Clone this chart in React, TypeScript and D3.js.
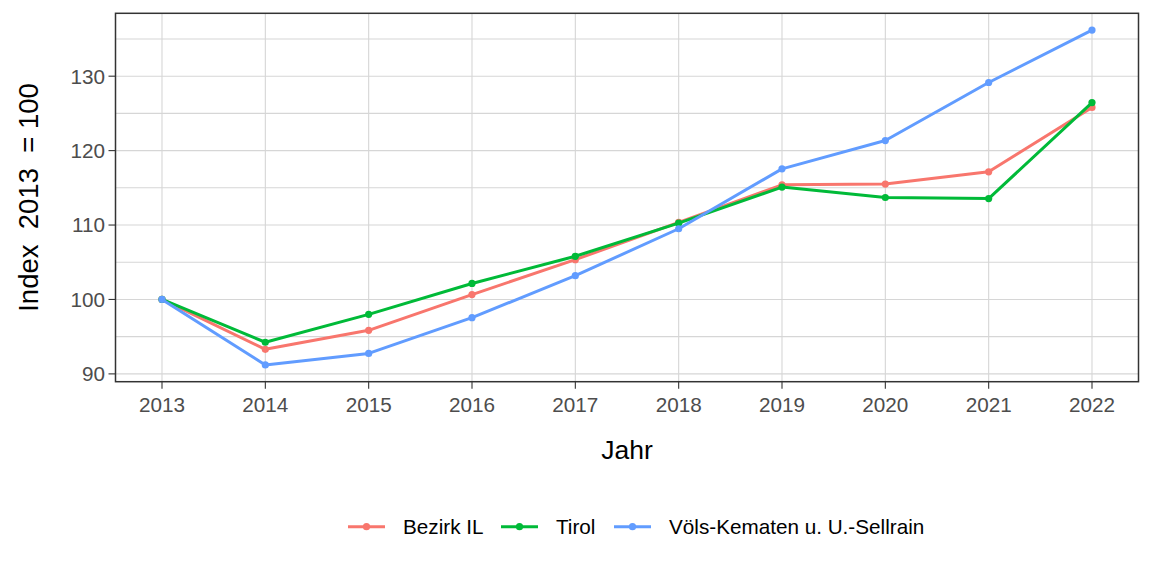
import { useEffect, useRef } from 'react'
import * as d3 from 'd3'

const years = [2013, 2014, 2015, 2016, 2017, 2018, 2019, 2020, 2021, 2022]
const bezirkIL = [100, 93.3, 95.85, 100.65, 105.35, 110.35, 115.4, 115.5, 117.15, 125.8]
const tirol = [100, 94.25, 98.0, 102.15, 105.8, 110.25, 115.1, 113.7, 113.55, 126.45]
const voels = [100, 91.2, 92.75, 97.55, 103.2, 109.5, 117.55, 121.35, 129.15, 136.2]

const seriesNames = ['Bezirk IL', 'Tirol', 'Völs-Kematen u. U.-Sellrain']
const seriesColors = ['#F8766D', '#00BA38', '#619CFF']
const yTicks = [90, 100, 110, 120, 130]
const yMinor = [95, 105, 115, 125, 135]

const W = 1152
const H = 576
const panel = { left: 115.5, right: 1138.5, top: 13.3, bottom: 381.7 }
const font = '"Liberation Sans", Arial, sans-serif'

export default function App() {
  const ref = useRef<SVGSVGElement>(null)

  useEffect(() => {
    const svg = d3.select(ref.current)
    svg.selectAll('*').remove()

    const x = d3.scaleLinear().domain([2012.55, 2022.45]).range([panel.left, panel.right])
    const y = d3.scaleLinear().domain([88.95, 138.45]).range([panel.bottom, panel.top])

    // grid lines
    const grid = svg.append('g')
    grid
      .selectAll('line.h')
      .data([...yTicks, ...yMinor])
      .enter()
      .append('line')
      .attr('x1', panel.left)
      .attr('x2', panel.right)
      .attr('y1', (d) => y(d))
      .attr('y2', (d) => y(d))
      .attr('stroke', '#D6D6D6')
      .attr('stroke-width', 1.1)
    grid
      .selectAll('line.v')
      .data(years)
      .enter()
      .append('line')
      .attr('x1', (d) => x(d))
      .attr('x2', (d) => x(d))
      .attr('y1', panel.top)
      .attr('y2', panel.bottom)
      .attr('stroke', '#D6D6D6')
      .attr('stroke-width', 1.1)

    // lines and points
    const allSeries = [bezirkIL, tirol, voels]
    const line = d3
      .line<number>()
      .x((_, i) => x(years[i]))
      .y((d) => y(d))

    allSeries.forEach((vals, k) => {
      svg
        .append('path')
        .datum(vals)
        .attr('d', line)
        .attr('fill', 'none')
        .attr('stroke', seriesColors[k])
        .attr('stroke-width', 3)
        .attr('stroke-linejoin', 'round')
      svg
        .append('g')
        .selectAll('circle')
        .data(vals)
        .enter()
        .append('circle')
        .attr('cx', (_, i) => x(years[i]))
        .attr('cy', (d) => y(d))
        .attr('r', 3.6)
        .attr('fill', seriesColors[k])
    })

    // panel border
    svg
      .append('rect')
      .attr('x', panel.left)
      .attr('y', panel.top)
      .attr('width', panel.right - panel.left)
      .attr('height', panel.bottom - panel.top)
      .attr('fill', 'none')
      .attr('stroke', '#333333')
      .attr('stroke-width', 1.5)

    // x axis
    const xAxis = svg.append('g')
    xAxis
      .selectAll('line')
      .data(years)
      .enter()
      .append('line')
      .attr('x1', (d) => x(d))
      .attr('x2', (d) => x(d))
      .attr('y1', panel.bottom)
      .attr('y2', panel.bottom + 7)
      .attr('stroke', '#333333')
      .attr('stroke-width', 1.1)
    xAxis
      .selectAll('text')
      .data(years)
      .enter()
      .append('text')
      .attr('x', (d) => x(d))
      .attr('y', 411.5)
      .attr('text-anchor', 'middle')
      .attr('fill', '#4D4D4D')
      .style('font', `20.7px ${font}`)
      .text((d) => d)

    // y axis
    const yAxis = svg.append('g')
    yAxis
      .selectAll('line')
      .data(yTicks)
      .enter()
      .append('line')
      .attr('x1', panel.left - 7)
      .attr('x2', panel.left)
      .attr('y1', (d) => y(d))
      .attr('y2', (d) => y(d))
      .attr('stroke', '#333333')
      .attr('stroke-width', 1.1)
    yAxis
      .selectAll('text')
      .data(yTicks)
      .enter()
      .append('text')
      .attr('x', panel.left - 10.5)
      .attr('y', (d) => y(d) + 7.4)
      .attr('text-anchor', 'end')
      .attr('fill', '#4D4D4D')
      .style('font', `20.7px ${font}`)
      .text((d) => d)

    // axis titles
    svg
      .append('text')
      .attr('x', (panel.left + panel.right) / 2)
      .attr('y', 459)
      .attr('text-anchor', 'middle')
      .attr('fill', 'black')
      .style('font', `26.5px ${font}`)
      .text('Jahr')

    svg
      .append('text')
      .attr('transform', `translate(38,${(panel.top + panel.bottom) / 2}) rotate(-90)`)
      .attr('text-anchor', 'middle')
      .attr('fill', 'black')
      .style('font', `27.5px ${font}`)
      .style('white-space', 'pre')
      .text('Index  2013  = 100')

    // legend
    const keyX = [348, 501, 614]
    const legendY = 526.7
    const legend = svg.append('g')
    seriesNames.forEach((name, k) => {
      legend
        .append('line')
        .attr('x1', keyX[k])
        .attr('x2', keyX[k] + 37)
        .attr('y1', legendY)
        .attr('y2', legendY)
        .attr('stroke', seriesColors[k])
        .attr('stroke-width', 3)
      legend
        .append('circle')
        .attr('cx', keyX[k] + 18.5)
        .attr('cy', legendY)
        .attr('r', 3.6)
        .attr('fill', seriesColors[k])
      legend
        .append('text')
        .attr('x', keyX[k] + 55)
        .attr('y', legendY + 7.4)
        .attr('fill', 'black')
        .style('font', `20.7px ${font}`)
        .text(name)
    })
  }, [])

  return (
    <svg
      ref={ref}
      width={W}
      height={H}
      style={{ position: 'absolute', left: 0, top: 0, background: 'white' }}
    />
  )
}
